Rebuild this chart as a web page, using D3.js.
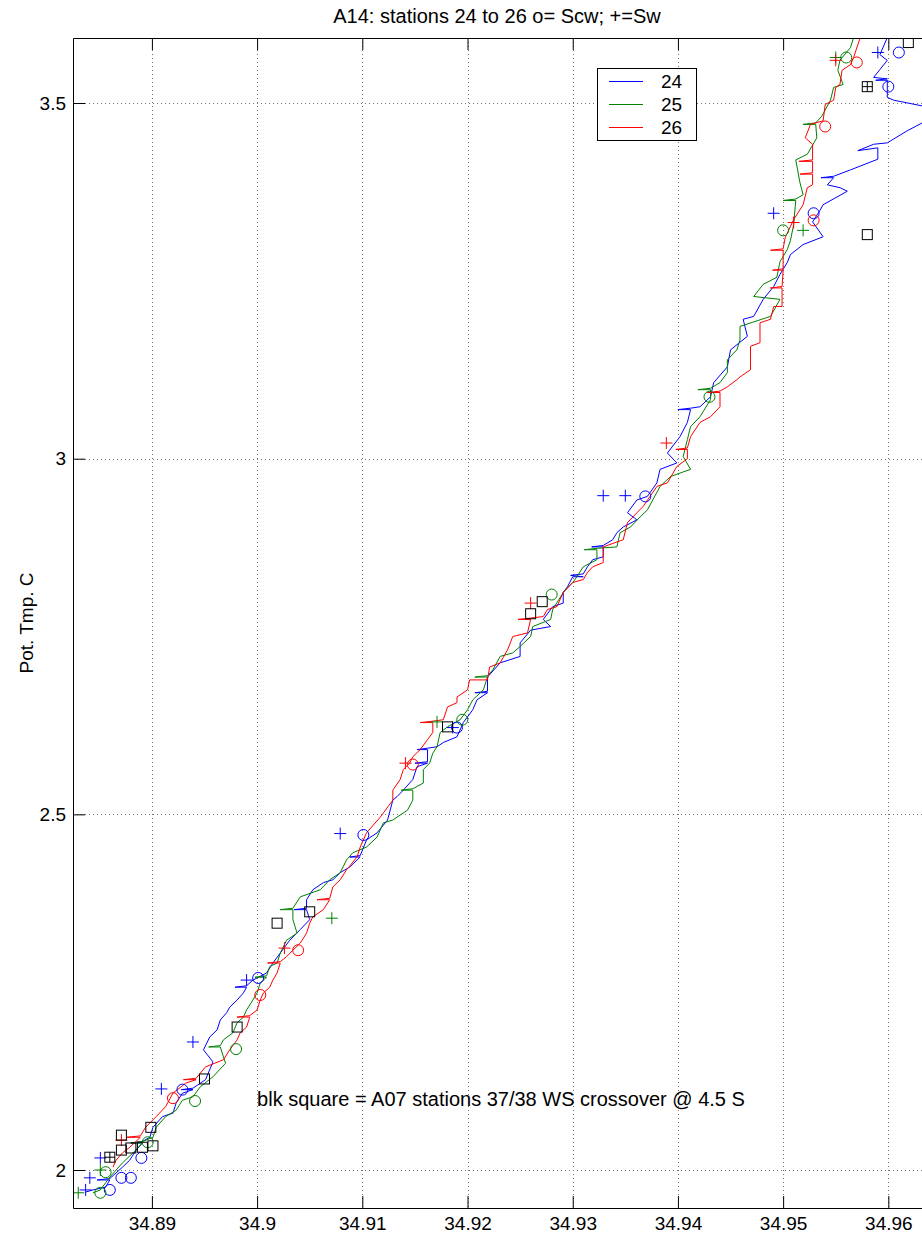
<!DOCTYPE html>
<html><head><meta charset="utf-8">
<script src="https://cdn.jsdelivr.net/npm/d3@7"></script>
<style>body{margin:0;background:#fff}svg{display:block}</style>
</head><body>
<script>
// ---------- data ----------
const stations = ["24", "25", "26"];
const xTicks = [34.89, 34.90, 34.91, 34.92, 34.93, 34.94, 34.95, 34.96];
const yTicks = [2, 2.5, 3, 3.5];
const titleText = "A14: stations 24 to 26 o= Scw; +=Sw";
const yLabel = "Pot. Tmp. C";
const noteText = "blk square = A07 stations 37/38 WS crossover @ 4.5 S";
const notePos = [34.90, 2.1];

// CTD traces [salinity, pot. temp]
const ctd24 = [
[34.8837,1.969],[34.8844,1.972],[34.8856,1.976],[34.8860,1.986],[34.8848,1.986],[34.8860,1.988],[34.8866,1.996],[34.8872,2.004],[34.8879,2.014],[34.8885,2.028],[34.8891,2.038],[34.8880,2.038],[34.8891,2.040],[34.8898,2.046],
[34.8901,2.060],[34.8910,2.075],[34.8920,2.080],[34.8923,2.094],[34.8929,2.108],[34.8939,2.113],[34.8928,2.113],[34.8939,2.115],[34.8951,2.127],[34.8958,2.152],[34.8949,2.169],[34.8955,2.187],
[34.8962,2.197],[34.8965,2.211],[34.8971,2.221],[34.8974,2.229],[34.8981,2.239],[34.8987,2.249],[34.8990,2.257],[34.8979,2.257],[34.8990,2.259],[34.8996,2.267],[34.9009,2.277],[34.9015,2.291],
[34.9022,2.305],[34.9031,2.323],[34.9041,2.338],[34.9050,2.352],[34.9047,2.366],[34.9035,2.366],[34.9047,2.368],[34.9047,2.380],[34.9053,2.394],[34.9063,2.404],[34.9072,2.408],[34.9079,2.418],
[34.9088,2.426],[34.9098,2.440],[34.9088,2.440],[34.9098,2.442],[34.9104,2.464],[34.9114,2.474],[34.9124,2.492],[34.9129,2.520],[34.9133,2.525],[34.9139,2.534],[34.9148,2.549],[34.9152,2.567],
[34.9162,2.572],[34.9150,2.572],[34.9162,2.574],[34.9162,2.591],[34.9152,2.591],[34.9162,2.593],[34.9171,2.595],[34.9177,2.601],[34.9190,2.609],[34.9196,2.629],[34.9205,2.647],[34.9209,2.661],[34.9219,2.671],[34.9207,2.671],[34.9219,2.673],[34.9219,2.693],
[34.9231,2.713],[34.9250,2.722],[34.9250,2.741],[34.9260,2.759],[34.9279,2.764],[34.9272,2.774],[34.9281,2.792],[34.9291,2.797],[34.9291,2.812],[34.9295,2.820],
[34.9300,2.834],[34.9310,2.834],[34.9298,2.836],[34.9310,2.838],[34.9314,2.848],[34.9319,2.858],[34.9329,2.862],[34.9329,2.876],[34.9318,2.876],[34.9329,2.878],[34.9338,2.886],[34.9342,2.896],[34.9348,2.904],[34.9361,2.914],
[34.9352,2.924],[34.9361,2.942],[34.9371,2.947],[34.9380,2.966],[34.9383,2.985],[34.9399,2.994],[34.9390,3.008],[34.9402,3.031],[34.9409,3.051],[34.9412,3.069],[34.9400,3.069],[34.9412,3.071],
[34.9421,3.073],[34.9431,3.087],[34.9434,3.107],[34.9447,3.129],[34.9450,3.153],[34.9466,3.172],[34.9462,3.196],[34.9472,3.200],[34.9481,3.224],[34.9491,3.242],
[34.9497,3.259],[34.9504,3.276],[34.9507,3.287],[34.9519,3.301],[34.9538,3.312],[34.9528,3.333],[34.9535,3.349],[34.9538,3.357],[34.9561,3.376],[34.9554,3.381],
[34.9542,3.385],[34.9548,3.395],[34.9536,3.395],[34.9548,3.397],[34.9564,3.406],[34.9590,3.421],[34.9590,3.437],[34.9571,3.433],[34.9586,3.442],[34.9599,3.444],[34.9618,3.461],[34.9645,3.482],
[34.9632,3.496],[34.9605,3.504],[34.9599,3.508],[34.9599,3.532],[34.9588,3.532],[34.9599,3.534],[34.9586,3.536],[34.9592,3.547],[34.9599,3.560],[34.9592,3.568],[34.9599,3.592],[34.9602,3.605]
];
const ctd25 = [
[34.8844,1.968],[34.8851,1.972],[34.8856,1.982],[34.8860,1.990],[34.8866,2.000],[34.8872,2.010],[34.8882,2.024],[34.8891,2.038],[34.8880,2.038],[34.8891,2.040],[34.8901,2.046],[34.8904,2.060],
[34.8913,2.075],[34.8923,2.084],[34.8929,2.098],[34.8939,2.103],[34.8946,2.117],[34.8958,2.131],[34.8970,2.150],[34.8965,2.173],[34.8954,2.173],[34.8965,2.175],[34.8968,2.183],[34.8977,2.193],
[34.8981,2.207],[34.8987,2.215],[34.8990,2.225],[34.8996,2.239],[34.9000,2.249],[34.9003,2.263],[34.9009,2.271],[34.8998,2.271],[34.9009,2.273],[34.9012,2.286],[34.9019,2.291],[34.9022,2.305],
[34.9028,2.323],[34.9038,2.333],[34.9034,2.352],[34.9034,2.366],[34.9022,2.366],[34.9034,2.368],[34.9041,2.384],[34.9060,2.394],[34.9069,2.408],[34.9079,2.418],[34.9085,2.436],[34.9091,2.446],
[34.9104,2.454],[34.9114,2.468],[34.9120,2.488],[34.9129,2.492],[34.9143,2.506],[34.9148,2.520],[34.9148,2.534],[34.9137,2.534],[34.9148,2.536],[34.9158,2.544],[34.9158,2.563],[34.9164,2.572],
[34.9167,2.586],[34.9171,2.595],[34.9174,2.615],[34.9181,2.623],[34.9193,2.633],[34.9200,2.647],[34.9205,2.661],[34.9215,2.675],[34.9219,2.693],[34.9207,2.693],[34.9219,2.695],[34.9224,2.703],
[34.9231,2.722],[34.9243,2.727],[34.9250,2.736],[34.9260,2.750],[34.9262,2.764],[34.9279,2.774],[34.9281,2.788],[34.9291,2.812],[34.9300,2.826],[34.9304,2.834],
[34.9310,2.848],[34.9323,2.858],[34.9323,2.872],[34.9311,2.872],[34.9323,2.874],[34.9342,2.876],[34.9345,2.896],[34.9355,2.904],[34.9364,2.918],[34.9371,2.928],[34.9383,2.961],[34.9393,2.975],
[34.9412,2.985],[34.9405,3.003],[34.9409,3.027],[34.9412,3.045],[34.9421,3.059],[34.9431,3.083],[34.9431,3.097],[34.9419,3.097],[34.9431,3.099],[34.9440,3.107],[34.9447,3.121],[34.9447,3.139],
[34.9456,3.153],[34.9459,3.167],[34.9459,3.186],[34.9488,3.200],[34.9497,3.224],[34.9472,3.228],[34.9481,3.245],[34.9494,3.255],[34.9497,3.277],[34.9504,3.294],
[34.9507,3.307],[34.9510,3.329],[34.9512,3.363],[34.9500,3.363],[34.9512,3.365],[34.9519,3.371],[34.9516,3.388],[34.9512,3.420],[34.9523,3.428],[34.9532,3.451],[34.9531,3.470],[34.9519,3.470],[34.9531,3.472],[34.9537,3.482],
[34.9545,3.504],[34.9548,3.522],[34.9557,3.526],[34.9552,3.546],[34.9554,3.560],[34.9564,3.578],[34.9567,3.592],[34.9571,3.606]
];
const ctd26 = [
[34.8863,2.004],[34.8866,2.014],[34.8872,2.024],[34.8879,2.032],[34.8889,2.046],[34.8876,2.046],[34.8889,2.048],[34.8894,2.060],[34.8904,2.075],[34.8913,2.089],[34.8920,2.108],[34.8932,2.122],
[34.8942,2.127],[34.8930,2.127],[34.8942,2.129],[34.8951,2.145],[34.8968,2.155],[34.8974,2.169],[34.8981,2.183],[34.8984,2.193],[34.8990,2.201],[34.8993,2.215],[34.8981,2.215],[34.8993,2.217],[34.9000,2.225],[34.9003,2.239],
[34.9006,2.249],[34.9012,2.257],[34.9015,2.267],[34.9019,2.277],[34.9022,2.291],[34.9010,2.291],[34.9022,2.293],[34.9028,2.300],[34.9034,2.309],[34.9041,2.319],[34.9047,2.333],[34.9050,2.347],
[34.9053,2.356],[34.9063,2.366],[34.9069,2.380],[34.9057,2.380],[34.9069,2.382],[34.9072,2.398],[34.9079,2.408],[34.9085,2.422],[34.9095,2.440],[34.9098,2.454],[34.9104,2.474],[34.9117,2.496],
[34.9129,2.520],[34.9129,2.534],[34.9136,2.549],[34.9139,2.563],[34.9145,2.572],[34.9148,2.581],[34.9155,2.591],[34.9162,2.605],[34.9167,2.615],[34.9167,2.629],[34.9155,2.629],[34.9167,2.631],
[34.9177,2.633],[34.9181,2.651],[34.9190,2.657],[34.9190,2.665],[34.9200,2.675],[34.9202,2.689],[34.9219,2.689],[34.9221,2.707],[34.9231,2.713],[34.9238,2.731],
[34.9243,2.750],[34.9257,2.755],[34.9260,2.774],[34.9248,2.774],[34.9260,2.776],[34.9272,2.778],[34.9276,2.788],[34.9285,2.792],[34.9288,2.802],[34.9291,2.812],[34.9300,2.826],[34.9310,2.830],
[34.9314,2.840],[34.9319,2.848],[34.9329,2.854],[34.9329,2.876],[34.9348,2.886],[34.9352,2.910],[34.9361,2.924],[34.9367,2.933],[34.9380,2.961],[34.9390,2.966],
[34.9399,2.989],[34.9409,3.000],[34.9409,3.013],[34.9398,3.013],[34.9409,3.015],[34.9412,3.031],[34.9421,3.051],[34.9431,3.059],[34.9440,3.073],[34.9440,3.093],[34.9428,3.093],[34.9440,3.095],[34.9447,3.101],[34.9456,3.111],
[34.9459,3.115],[34.9469,3.125],[34.9469,3.158],[34.9478,3.163],[34.9478,3.191],[34.9488,3.196],[34.9491,3.214],[34.9499,3.214],[34.9499,3.240],[34.9488,3.240],[34.9499,3.242],[34.9500,3.265],[34.9490,3.265],[34.9500,3.267],[34.9500,3.293],[34.9488,3.293],[34.9500,3.295],[34.9502,3.311],
[34.9510,3.336],[34.9519,3.357],[34.9523,3.381],[34.9528,3.385],[34.9528,3.400],[34.9516,3.400],[34.9528,3.402],[34.9528,3.418],[34.9515,3.418],[34.9528,3.420],[34.9528,3.442],[34.9521,3.451],[34.9526,3.470],[34.9538,3.475],[34.9540,3.498],[34.9548,3.504],
[34.9550,3.522],[34.9554,3.526],[34.9556,3.546],[34.9564,3.554],[34.9567,3.564],[34.9571,3.582],[34.9576,3.603]
];

// bottle salinities: o = Scw, + = Sw
const scw24 = [[34.9610,3.571],[34.9600,3.523],[34.9529,3.345],[34.9369,2.947],[34.9190,2.622],[34.9101,2.471],[34.9001,2.270],[34.8929,2.113],[34.8890,2.017],[34.8871,1.989],[34.8880,1.989],[34.8860,1.972]];
const sw24  = [[34.9590,3.571],[34.9491,3.345],[34.9329,2.948],[34.9350,2.948],[34.9186,2.622],[34.9079,2.473],[34.8990,2.267],[34.8939,2.180],[34.8909,2.114],[34.8851,2.017],[34.8841,1.989],[34.8837,1.972]];
const scw25 = [[34.9560,3.564],[34.9500,3.321],[34.9430,3.087],[34.9280,2.809],[34.9195,2.633],[34.8980,2.170],[34.8941,2.097],[34.8896,2.039],[34.8856,1.997],[34.8851,1.968]];
const sw25  = [[34.9550,3.564],[34.9519,3.321],[34.9071,2.354],[34.9171,2.630],[34.8830,1.968],[34.8851,2.000]];
const scw26 = [[34.9570,3.557],[34.9540,3.467],[34.9529,3.335],[34.9148,2.570],[34.9039,2.309],[34.9003,2.246],[34.8920,2.101]];
const sw26  = [[34.9550,3.560],[34.9510,3.332],[34.9389,3.022],[34.9260,2.797],[34.9141,2.572],[34.9026,2.312],[34.8871,2.042]];
// A07 crossover (black squares)
const a07Sq = [[34.9580,3.315],[34.9580,3.523],[34.9619,3.585],[34.9271,2.799],[34.9260,2.782],[34.9181,2.623],[34.9019,2.347],[34.9050,2.363],[34.8981,2.201],[34.8950,2.128],
[34.8871,2.049],[34.8860,2.018],[34.8871,2.028],[34.8880,2.031],[34.8891,2.032],[34.8901,2.034],[34.8899,2.060]];
const a07Plus = [[34.9580,3.523],[34.8860,2.018]];

// ---------- drawing ----------
const W = 922, H = 1238;
const L = 73, R = 922, T = 38, B = 1208;
const FONT = "'Liberation Sans', Arial, Helvetica, sans-serif";
const colors = {"24": "#0000ff", "25": "#008000", "26": "#ff0000"};

const x = d3.scaleLinear().domain([34.8825, 34.9632]).range([L, R]);
const y = d3.scaleLinear().domain([1.9466, 3.5914]).range([B, T]);

const svg = d3.select("body").append("svg").attr("width", W).attr("height", H)
  .style("font-family", FONT);
svg.append("rect").attr("width", W).attr("height", H).attr("fill", "#fff");

svg.append("defs").append("clipPath").attr("id", "clip")
  .append("rect").attr("x", L).attr("y", T).attr("width", R - L).attr("height", B - T);

// grid
const grid = svg.append("g").attr("stroke", "#444").attr("stroke-width", 1)
  .attr("stroke-dasharray", "1,3").attr("opacity", 0.75);
grid.selectAll("line.v").data(xTicks).join("line")
  .attr("x1", d => Math.round(x(d)) + 0.5).attr("x2", d => Math.round(x(d)) + 0.5)
  .attr("y1", T).attr("y2", B);
grid.selectAll("line.h").data(yTicks).join("line")
  .attr("y1", d => Math.round(y(d)) + 0.5).attr("y2", d => Math.round(y(d)) + 0.5)
  .attr("x1", L).attr("x2", R);

// data
const plot = svg.append("g").attr("clip-path", "url(#clip)");
const line = d3.line().x(d => x(d[0])).y(d => y(d[1]));
const traces = {"24": ctd24, "25": ctd25, "26": ctd26};
stations.forEach(s => {
  plot.append("path").datum(traces[s]).attr("d", line)
    .attr("fill", "none").attr("stroke", colors[s]).attr("stroke-width", 1)
    .attr("stroke-linejoin", "miter");
});

const circles = {"24": scw24, "25": scw25, "26": scw26};
const pluses = {"24": sw24, "25": sw25, "26": sw26};
const plusPath = "M-6,0H6M0,-6V6";
stations.forEach(s => {
  plot.append("g").selectAll("circle").data(circles[s]).join("circle")
    .attr("cx", d => x(d[0])).attr("cy", d => y(d[1])).attr("r", 5.5)
    .attr("fill", "none").attr("stroke", colors[s]).attr("stroke-width", 1);
  plot.append("g").selectAll("path").data(pluses[s]).join("path")
    .attr("transform", d => `translate(${x(d[0])},${y(d[1])})`).attr("d", plusPath)
    .attr("fill", "none").attr("stroke", colors[s]).attr("stroke-width", 1);
});
plot.append("g").selectAll("rect").data(a07Sq).join("rect")
  .attr("x", d => x(d[0]) - 5).attr("y", d => y(d[1]) - 5).attr("width", 10).attr("height", 10)
  .attr("fill", "none").attr("stroke", "#000").attr("stroke-width", 1);
plot.append("g").selectAll("path").data(a07Plus).join("path")
  .attr("transform", d => `translate(${x(d[0])},${y(d[1])})`).attr("d", "M-5,0H5M0,-5V5")
  .attr("fill", "none").attr("stroke", "#000").attr("stroke-width", 1);

// axes
const fmt = d => String(+d.toFixed(2));
function styleAxis(g) {
  g.attr("font-family", FONT).attr("font-size", 19);
  g.selectAll("text").attr("fill", "#000");
  g.selectAll("line,path").attr("stroke", "#000");
}
svg.append("g").attr("transform", `translate(0,${B})`)
  .call(d3.axisBottom(x).tickValues(xTicks).tickSizeInner(-12).tickSizeOuter(0).tickPadding(9).tickFormat(fmt))
  .call(styleAxis);
svg.append("g").attr("transform", `translate(0,${T})`)
  .call(d3.axisTop(x).tickValues(xTicks).tickSizeInner(-12).tickSizeOuter(0).tickFormat(""))
  .call(styleAxis);
svg.append("g").attr("transform", `translate(${L},0)`)
  .call(d3.axisLeft(y).tickValues(yTicks).tickSizeInner(-12).tickSizeOuter(0).tickPadding(7).tickFormat(fmt))
  .call(styleAxis);

// title & labels
svg.append("text").attr("x", 497).attr("y", 23).attr("text-anchor", "middle")
  .attr("font-size", 20).text(titleText);
svg.append("text").attr("transform", "translate(33,623) rotate(-90)").attr("text-anchor", "middle")
  .attr("font-size", 19).text(yLabel);
svg.append("text").attr("x", x(notePos[0])).attr("y", y(notePos[1]))
  .attr("dominant-baseline", "central").attr("font-size", 20).text(noteText);

// legend
const lg = svg.append("g");
lg.append("rect").attr("x", 597.5).attr("y", 68.5).attr("width", 99).attr("height", 72)
  .attr("fill", "#fff").attr("stroke", "#000").attr("stroke-width", 1);
stations.forEach((s, i) => {
  const yy = 81.5 + i * 23;
  lg.append("line").attr("x1", 609).attr("x2", 643).attr("y1", yy).attr("y2", yy)
    .attr("stroke", colors[s]).attr("stroke-width", 1);
  lg.append("text").attr("x", 661).attr("y", yy).attr("dominant-baseline", "central")
    .attr("font-size", 19).text(s);
});
</script>
</body></html>
